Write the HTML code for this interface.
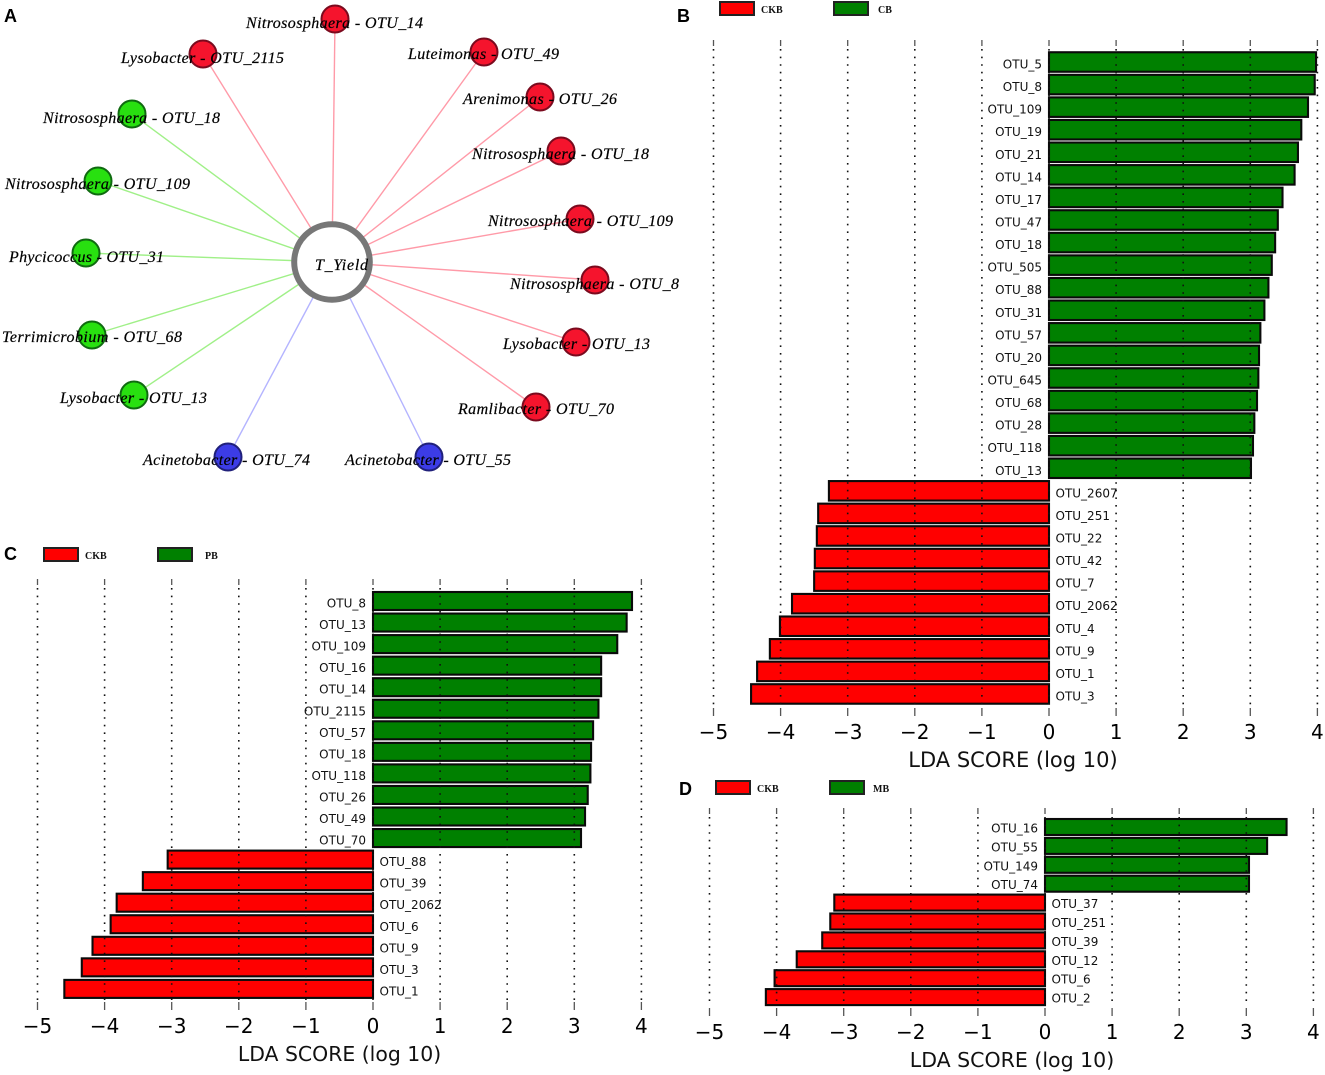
<!DOCTYPE html>
<html lang="en">
<head>
<meta charset="utf-8">
<title>Network and LDA score panels</title>
<style>
html,body{margin:0;padding:0;background:#fff;}
#figure{display:block;width:1325px;height:1075px;background:#fff;}
.node-label{font-family:"Liberation Serif",serif;font-style:italic;font-size:16px;fill:#000;stroke:#000;stroke-width:0.2px;}
.panel-letter{font-family:"Liberation Sans",sans-serif;font-weight:bold;font-size:18px;fill:#000;}
.legend-text{font-family:"Liberation Serif",serif;font-weight:bold;font-size:10px;fill:#111;}
.bar-label{font-family:"DejaVu Sans",sans-serif;font-size:12px;fill:#111;}
.tick-label{font-family:"DejaVu Sans",sans-serif;font-size:20px;fill:#000;}
.axis-title{font-family:"DejaVu Sans",sans-serif;fill:#111;}
</style>
</head>
<body>
<svg id="figure" xmlns="http://www.w3.org/2000/svg" width="1325" height="1075" viewBox="0 0 1325 1075">
  <g id="panel-a">
    <text class="panel-letter" x="4" y="22">A</text>
    <g fill="none" stroke-width="1.4">
      <line x1="332" y1="262" x2="335" y2="19" stroke="#ff9aa8"/>
      <line x1="332" y1="262" x2="203" y2="54" stroke="#ff9aa8"/>
      <line x1="332" y1="262" x2="484" y2="52" stroke="#ff9aa8"/>
      <line x1="332" y1="262" x2="540" y2="97" stroke="#ff9aa8"/>
      <line x1="332" y1="262" x2="561" y2="151" stroke="#ff9aa8"/>
      <line x1="332" y1="262" x2="580" y2="219" stroke="#ff9aa8"/>
      <line x1="332" y1="262" x2="595" y2="280" stroke="#ff9aa8"/>
      <line x1="332" y1="262" x2="576" y2="342" stroke="#ff9aa8"/>
      <line x1="332" y1="262" x2="536" y2="407" stroke="#ff9aa8"/>
      <line x1="332" y1="262" x2="132" y2="114" stroke="#a0f088"/>
      <line x1="332" y1="262" x2="98" y2="181" stroke="#a0f088"/>
      <line x1="332" y1="262" x2="86" y2="253" stroke="#a0f088"/>
      <line x1="332" y1="262" x2="92" y2="335" stroke="#a0f088"/>
      <line x1="332" y1="262" x2="134" y2="395" stroke="#a0f088"/>
      <line x1="332" y1="262" x2="228" y2="457" stroke="#b4b4ff"/>
      <line x1="332" y1="262" x2="429" y2="457" stroke="#b4b4ff"/>
    </g>
    <circle cx="332" cy="262" r="37.8" fill="#fff" stroke="#777" stroke-width="6"/>
    <g stroke-width="2">
      <circle cx="335" cy="19" r="13.5" fill="#f5142d" stroke="#7a0a1e"/>
      <circle cx="203" cy="54" r="13.5" fill="#f5142d" stroke="#7a0a1e"/>
      <circle cx="484" cy="52" r="13.5" fill="#f5142d" stroke="#7a0a1e"/>
      <circle cx="540" cy="97" r="13.5" fill="#f5142d" stroke="#7a0a1e"/>
      <circle cx="561" cy="151" r="13.5" fill="#f5142d" stroke="#7a0a1e"/>
      <circle cx="580" cy="219" r="13.5" fill="#f5142d" stroke="#7a0a1e"/>
      <circle cx="595" cy="280" r="13.5" fill="#f5142d" stroke="#7a0a1e"/>
      <circle cx="576" cy="342" r="13.5" fill="#f5142d" stroke="#7a0a1e"/>
      <circle cx="536" cy="407" r="13.5" fill="#f5142d" stroke="#7a0a1e"/>
      <circle cx="132" cy="114" r="13.5" fill="#28e010" stroke="#0f6a10"/>
      <circle cx="98" cy="181" r="13.5" fill="#28e010" stroke="#0f6a10"/>
      <circle cx="86" cy="253" r="13.5" fill="#28e010" stroke="#0f6a10"/>
      <circle cx="92" cy="335" r="13.5" fill="#28e010" stroke="#0f6a10"/>
      <circle cx="134" cy="395" r="13.5" fill="#28e010" stroke="#0f6a10"/>
      <circle cx="228" cy="457" r="13.5" fill="#3c3ce6" stroke="#20207a"/>
      <circle cx="429" cy="457" r="13.5" fill="#3c3ce6" stroke="#20207a"/>
    </g>
    <text class="node-label" x="315" y="270" textLength="53" lengthAdjust="spacing">T_Yield</text>
    <text class="node-label" x="246" y="28" textLength="177" lengthAdjust="spacing">Nitrososphaera - OTU_14</text>
    <text class="node-label" x="121" y="63" textLength="163" lengthAdjust="spacing">Lysobacter - OTU_2115</text>
    <text class="node-label" x="408" y="59" textLength="151" lengthAdjust="spacing">Luteimonas - OTU_49</text>
    <text class="node-label" x="463" y="104" textLength="154" lengthAdjust="spacing">Arenimonas - OTU_26</text>
    <text class="node-label" x="472" y="159" textLength="177" lengthAdjust="spacing">Nitrososphaera - OTU_18</text>
    <text class="node-label" x="488" y="226" textLength="185" lengthAdjust="spacing">Nitrososphaera - OTU_109</text>
    <text class="node-label" x="510" y="289" textLength="169" lengthAdjust="spacing">Nitrososphaera - OTU_8</text>
    <text class="node-label" x="503" y="349" textLength="147" lengthAdjust="spacing">Lysobacter - OTU_13</text>
    <text class="node-label" x="458" y="414" textLength="156" lengthAdjust="spacing">Ramlibacter - OTU_70</text>
    <text class="node-label" x="43" y="123" textLength="177" lengthAdjust="spacing">Nitrososphaera - OTU_18</text>
    <text class="node-label" x="5" y="189" textLength="185" lengthAdjust="spacing">Nitrososphaera - OTU_109</text>
    <text class="node-label" x="9" y="262" textLength="155" lengthAdjust="spacing">Phycicoccus - OTU_31</text>
    <text class="node-label" x="2" y="342" textLength="180" lengthAdjust="spacing">Terrimicrobium - OTU_68</text>
    <text class="node-label" x="60" y="403" textLength="147" lengthAdjust="spacing">Lysobacter - OTU_13</text>
    <text class="node-label" x="143" y="465" textLength="167" lengthAdjust="spacing">Acinetobacter - OTU_74</text>
    <text class="node-label" x="345" y="465" textLength="166" lengthAdjust="spacing">Acinetobacter - OTU_55</text>
  </g>
  <g id="panel-b"></g>
  <g id="panel-c"></g>
  <g id="panel-d"></g>
</svg>
<script>
var xTicks = [-5, -4, -3, -2, -1, 0, 1, 2, 3, 4];

var bCategories = ["OTU_5","OTU_8","OTU_109","OTU_19","OTU_21","OTU_14","OTU_17","OTU_47","OTU_18","OTU_505","OTU_88","OTU_31","OTU_57","OTU_20","OTU_645","OTU_68","OTU_28","OTU_118","OTU_13","OTU_2607","OTU_251","OTU_22","OTU_42","OTU_7","OTU_2062","OTU_4","OTU_9","OTU_1","OTU_3"];
var bValues = [3.98,3.96,3.86,3.76,3.71,3.66,3.48,3.41,3.37,3.32,3.27,3.21,3.15,3.13,3.12,3.10,3.06,3.04,3.01,-3.28,-3.44,-3.46,-3.49,-3.50,-3.83,-4.01,-4.16,-4.35,-4.44];

var cCategories = ["OTU_8","OTU_13","OTU_109","OTU_16","OTU_14","OTU_2115","OTU_57","OTU_18","OTU_118","OTU_26","OTU_49","OTU_70","OTU_88","OTU_39","OTU_2062","OTU_6","OTU_9","OTU_3","OTU_1"];
var cValues = [3.86,3.78,3.64,3.40,3.40,3.36,3.28,3.25,3.24,3.20,3.16,3.10,-3.06,-3.43,-3.82,-3.91,-4.18,-4.34,-4.60];

var dCategories = ["OTU_16","OTU_55","OTU_149","OTU_74","OTU_37","OTU_251","OTU_39","OTU_12","OTU_6","OTU_2"];
var dValues = [3.60,3.31,3.04,3.04,-3.14,-3.20,-3.32,-3.70,-4.03,-4.16];

var NS = "http://www.w3.org/2000/svg";

function svgEl(parent, tag, attrs, text) {
  var el = document.createElementNS(NS, tag);
  for (var k in attrs) { el.setAttribute(k, attrs[k]); }
  if (text !== undefined) { el.textContent = text; }
  parent.appendChild(el);
  return el;
}

function drawPanel(id, letter, otherGroup, layout, categories, values) {
  var root = document.getElementById(id);
  function xScale(v) { return layout.x0 + v * layout.unit; }
  function yScale(i) { return layout.firstY + i * layout.step; }

  var letterEl = svgEl(root, "text", {"class": "panel-letter", x: layout.letterX, y: layout.letterY}, letter);
  
  

  var legendItems = [
    {name: "CKB", fill: "#ff0000", x: layout.legendX, textX: layout.legendX + 41},
    {name: otherGroup, fill: "#008000", x: layout.legendX + 114, textX: layout.legendX2}
  ];
  legendItems.forEach(function (item) {
    var swatch = svgEl(root, "rect", {x: item.x, y: layout.legendY, width: 34, height: 13, fill: item.fill, stroke: "#222", "stroke-width": 2});
    
    
    var legendText = svgEl(root, "text", {"class": "legend-text", x: item.textX, y: layout.legendY + 11}, item.name);
    
    
  });

  categories.forEach(function (cat, i) {
    var v = values[i];
    var cy = yScale(i);
    var x1 = Math.min(xScale(0), xScale(v));
    var bar = svgEl(root, "rect", {
      x: x1, y: cy - layout.barH / 2,
      width: Math.abs(xScale(v) - xScale(0)), height: layout.barH,
      fill: v >= 0 ? "#008000" : "#ff0000", stroke: "#0a0a0a", "stroke-width": 2.1
    });
    
    
    var lab = svgEl(root, "text", {
      "class": "bar-label",
      x: v >= 0 ? xScale(0) - 7 : xScale(0) + 6.5,
      y: cy + layout.labelDy,
      "text-anchor": v >= 0 ? "end" : "start"
    }, cat);
    
    
  });

  xTicks.forEach(function (t) {
    var x = xScale(t);
    var grid = svgEl(root, "line", {x1: x, x2: x, y1: layout.gridTop + 9, y2: layout.axisBottom - 2, stroke: "#111", "stroke-width": 1.6, "stroke-dasharray": "1.6 6"});
    
    
    var topTick = svgEl(root, "line", {x1: x, x2: x, y1: layout.gridTop, y2: layout.gridTop + 6, stroke: "#555", "stroke-width": 1.3});
    
    
    var bottomTick = svgEl(root, "line", {x1: x, x2: x, y1: layout.axisBottom, y2: layout.axisBottom + 8, stroke: "#555", "stroke-width": 1.3});
    
    
    var tickLab = svgEl(root, "text", {"class": "tick-label", x: x, y: layout.tickY, "text-anchor": "middle"}, String(t).replace("-", "\u2212"));
    
    
  });

  var title = svgEl(root, "text", {"class": "axis-title", x: layout.titleX, y: layout.titleY, "text-anchor": "middle", "font-size": layout.titleSize}, "LDA SCORE (log 10)");
  
  
}

drawPanel("panel-b", "B", "CB",
  {x0: 1049, unit: 67.1, firstY: 62, step: 22.57, barH: 19.5, labelDy: 6.5, gridTop: 40, axisBottom: 708, tickY: 739, titleX: 1013, titleY: 767, titleSize: 21, letterX: 677, letterY: 22, legendX: 720, legendX2: 878, legendY: 2},
  bCategories, bValues);

drawPanel("panel-c", "C", "PB",
  {x0: 373, unit: 67.1, firstY: 601, step: 21.55, barH: 18, labelDy: 6.5, gridTop: 579, axisBottom: 1002, tickY: 1033, titleX: 339.5, titleY: 1061, titleSize: 20.4, letterX: 4, letterY: 560, legendX: 44, legendX2: 205, legendY: 548},
  cCategories, cValues);

drawPanel("panel-d", "D", "MB",
  {x0: 1045, unit: 67.1, firstY: 827, step: 18.9, barH: 16, labelDy: 5.5, gridTop: 808, axisBottom: 1008, tickY: 1039, titleX: 1012, titleY: 1067, titleSize: 20.5, letterX: 679, letterY: 795, legendX: 716, legendX2: 873, legendY: 781},
  dCategories, dValues);
</script>
</body>
</html>
